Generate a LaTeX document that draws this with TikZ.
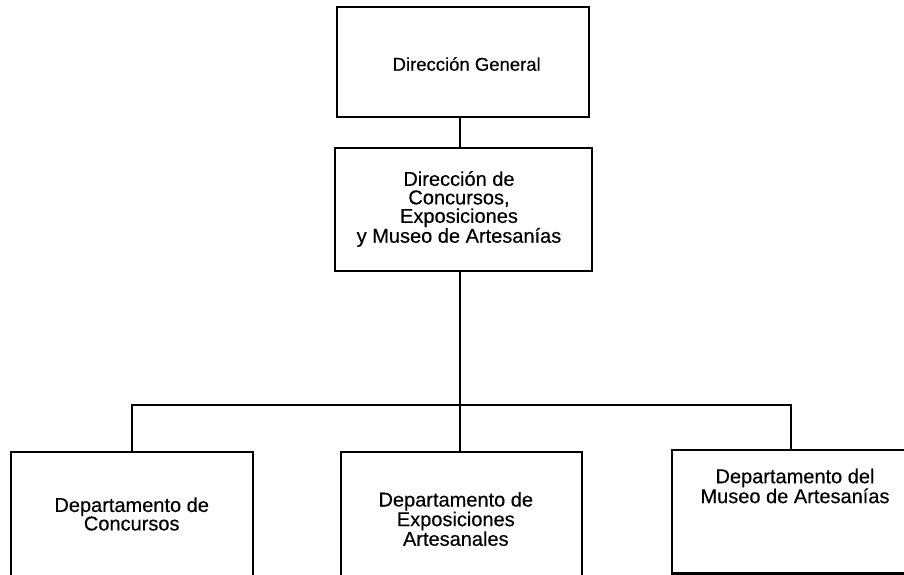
\documentclass[tikz,border=0pt]{standalone}
\usepackage{fontspec}
\setmainfont{Liberation Sans}
\newfontfamily\lblfont{Liberation Sans}[FakeBold=0.35]
\begin{document}
\begin{tikzpicture}[x=1pt,y=-1pt,
  box/.style={draw=black,line width=2.2pt,rectangle,inner sep=0pt,fill=white},
  lbl/.style={align=center,inner sep=0pt,font=\lblfont\fontsize{20}{18.5}\selectfont},
  conn/.style={draw=black,line width=2.2pt}]
\useasboundingbox (0,0) rectangle (904,575);
\clip (0,0) rectangle (904,575);
\fill[white] (0,0) rectangle (904,575);
% boxes
\node[box,minimum width=252pt,minimum height=110pt] (dg) at (463,62) {};
\node[box,minimum width=257pt,minimum height=123pt] (dc) at (463.5,209.5) {};
\node[box,minimum width=242pt,minimum height=124pt] (b1) at (132,514) {};
\node[box,minimum width=241pt,minimum height=125pt] (b2) at (461.5,514.5) {};
\node[box,minimum width=246pt,minimum height=123.5pt] (b3) at (795,511.75) {};
% texts
\node[lbl,font=\lblfont\fontsize{18.5}{18.5}\selectfont] (t0) at (466.7,64) {Dirección General};
\node[lbl] (t1) at (459,209) {Dirección de\\Concursos,\\Exposiciones\\y Museo de Artesanías};
\node[lbl] (t2) at (131.7,514) {Departamento de\\Concursos};
\node[lbl] (t3) at (455.8,519) {Departamento de\\Exposiciones\\Artesanales};
\node[lbl] (t4) at (795,486) {Departamento del\\Museo de Artesanías};
% connectors
\coordinate (bus) at (460,405);
\draw[conn] (dg.south -| bus) -- (dc.north -| bus);
\draw[conn] (dc.south -| bus) -- (bus);
\draw[conn] (b1.north -| 132,0) |- (bus) -| (b3.north -| 791,0);
\draw[conn] (bus) -- (b2.north -| bus);
\end{tikzpicture}
\end{document}
